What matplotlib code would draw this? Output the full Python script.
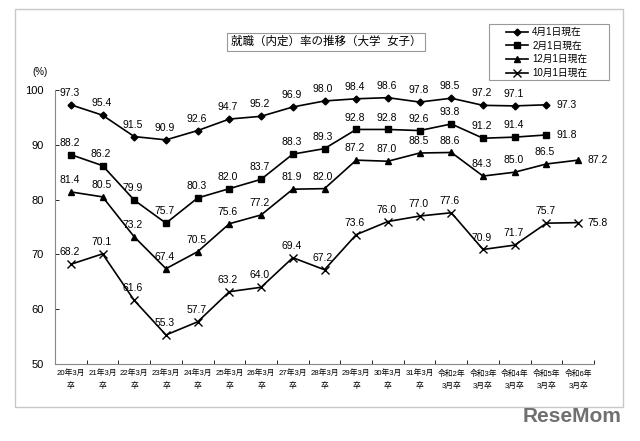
import numpy as np
import matplotlib
matplotlib.use('Agg')
import matplotlib.pyplot as plt
from matplotlib.patches import Rectangle

plt.rcParams['font.family'] = ['Liberation Sans', 'Noto Sans CJK JP']

# data
categories = ['20年3月\n卒', '21年3月\n卒', '22年3月\n卒', '23年3月\n卒', '24年3月\n卒',
              '25年3月\n卒', '26年3月\n卒', '27年3月\n卒', '28年3月\n卒', '29年3月\n卒',
              '30年3月\n卒', '31年3月\n卒', '令和2年\n3月卒', '令和3年\n3月卒', '令和4年\n3月卒',
              '令和5年\n3月卒', '令和6年\n3月卒']
apr1 = [97.3, 95.4, 91.5, 90.9, 92.6, 94.7, 95.2, 96.9, 98.0, 98.4, 98.6, 97.8, 98.5, 97.2, 97.1, 97.3]
feb1 = [88.2, 86.2, 79.9, 75.7, 80.3, 82.0, 83.7, 88.3, 89.3, 92.8, 92.8, 92.6, 93.8, 91.2, 91.4, 91.8]
dec1 = [81.4, 80.5, 73.2, 67.4, 70.5, 75.6, 77.2, 81.9, 82.0, 87.2, 87.0, 88.5, 88.6, 84.3, 85.0, 86.5, 87.2]
oct1 = [68.2, 70.1, 61.6, 55.3, 57.7, 63.2, 64.0, 69.4, 67.2, 73.6, 76.0, 77.0, 77.6, 70.9, 71.7, 75.7, 75.8]
series_names = ['4月1日現在', '2月1日現在', '12月1日現在', '10月1日現在']

fig = plt.figure(figsize=(6.4, 4.41), dpi=100)
fig.patches.append(Rectangle((15 / 640, 1 - 407 / 441), 608 / 640, 398 / 441,
                             transform=fig.transFigure, fill=False,
                             edgecolor='#c8c8c8', linewidth=1.0))

ax = fig.add_axes([55 / 640, 1 - 364 / 441, 539 / 640, 274 / 441])

styles = [
    (apr1, 'D', 3.5),
    (feb1, 's', 5),
    (dec1, '^', 4.5),
    (oct1, 'x', 5.5),
]
for (vals, mk, ms), name in zip(styles, series_names):
    x = np.arange(len(vals))
    ax.plot(x, vals, color='black', marker=mk, markersize=ms, linewidth=1.2,
            markeredgewidth=1.0, label=name)
    for i, v in enumerate(vals):
        if i == len(vals) - 1:
            ax.annotate(f'{v:.1f}', (i, v), xytext=(7, 0), textcoords='offset points',
                        ha='left', va='center', fontsize=7.5)
        else:
            ax.annotate(f'{v:.1f}', (i, v), xytext=(-1, 5), textcoords='offset points',
                        ha='center', va='bottom', fontsize=7.5)

ax.set_xlim(-0.5, len(categories) - 0.5)
ax.set_ylim(50, 100)
ax.set_yticks(np.arange(50, 101, 10))
ax.tick_params(axis='y', direction='in', length=3, labelsize=8, width=0.6, pad=8)
ax.set_xticks(np.arange(len(categories)))
ax.set_xticklabels(categories, fontsize=5.6, linespacing=1.7)
ax.set_xticks(np.arange(-0.5, len(categories), 1), minor=True)
ax.tick_params(axis='x', which='major', length=0, pad=4)
ax.tick_params(axis='x', which='minor', direction='in', length=3, width=0.6)
for s in ['top', 'right']:
    ax.spines[s].set_visible(False)
for s in ['left', 'bottom']:
    ax.spines[s].set_color('#888888')
    ax.spines[s].set_linewidth(0.8)

fig.text(40 / 640, 1 - 72 / 441, '(%)', fontsize=7, ha='center', va='center')

fig.text(326 / 640, 1 - 42 / 441, '就職（内定）率の推移（大学  女子）', fontsize=8.3,
         ha='center', va='center',
         bbox=dict(boxstyle='square,pad=0.3', facecolor='white', edgecolor='#999999', linewidth=0.8))

# legend box
fig.patches.append(Rectangle((489 / 640, 1 - 80 / 441), 120 / 640, 56 / 441,
                             transform=fig.transFigure, fill=False,
                             edgecolor='#999999', linewidth=0.8))
leg = ax.legend(loc='upper left', bbox_to_anchor=(503 / 640, 1 - 24 / 441),
                bbox_transform=fig.transFigure, fontsize=7, frameon=False,
                handlelength=2.3, handletextpad=0.4, labelspacing=0.38,
                borderpad=0.3, borderaxespad=0)

fig.text(622 / 640, 1 - 416 / 441, 'ReseMom', fontsize=15, fontweight='bold',
         color='#707070', ha='right', va='center')

fig.savefig('out.png', dpi=100)
